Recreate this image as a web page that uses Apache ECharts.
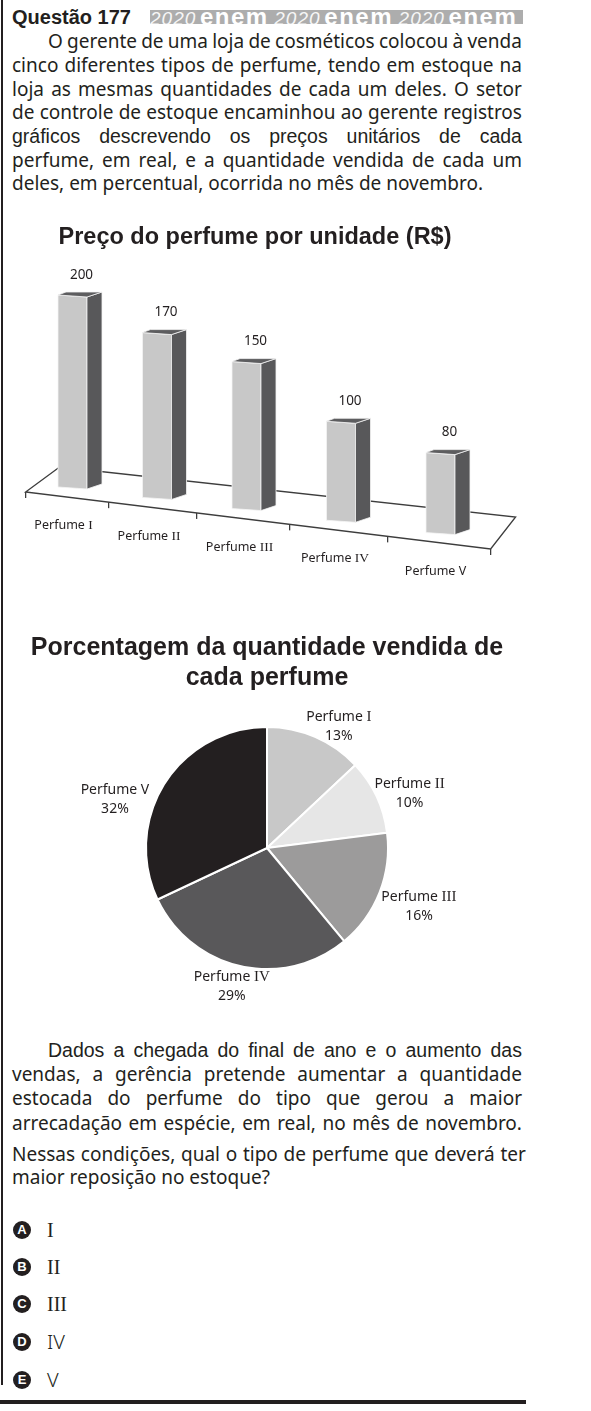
<!DOCTYPE html>
<html>
<head>
<meta charset="utf-8">
<script src="https://cdn.jsdelivr.net/npm/echarts@6/dist/echarts.min.js"></script>
<style>
html,body{margin:0;padding:0;background:#fff;}
body{width:591px;height:1411px;position:relative;overflow:hidden;color:#231f20;font-family:"Noto Sans",sans-serif;}
.abs{position:absolute;}
.vline{left:1px;top:0;width:2px;height:1385px;background:#231f20;}
.hline{left:0;top:1400px;width:526px;height:4px;background:#231f20;}
.q{left:12px;top:6.5px;font:bold 20px/20px "Liberation Sans",sans-serif;white-space:nowrap;}
.banner{left:150px;top:10px;width:373px;height:14px;background:#adadad;overflow:hidden;white-space:nowrap;font:bold 24px/14px "Liberation Sans",sans-serif;color:#fff;}
.banner span{display:inline-block;line-height:14px;vertical-align:baseline;}
.banner .y{font:italic 400 19px/14px "Liberation Sans",sans-serif;width:50px;letter-spacing:1px;color:#f6f6f6;}
.banner .e{font:bold 24px/14px "Liberation Sans",sans-serif;width:74.3px;letter-spacing:1.5px;}
.para{left:12px;width:510px;font-size:19px;}
.para > div{white-space:nowrap;}
.j{display:flex;justify-content:space-between;}
.ind{padding-left:36px;}
.ar{font-family:"Liberation Sans",sans-serif;font-size:19.5px;}
.opt{left:13px;width:200px;height:20px;}
.opt .c{position:absolute;left:0;top:1px;width:18px;height:18px;border-radius:50%;background:#231f20;color:#fff;font:bold 13px/18px "Liberation Sans",sans-serif;text-align:center;}
.opt .t{position:absolute;left:34px;top:0;line-height:20px;font-size:20px;white-space:nowrap;}
.opt .t.s{font-family:"Liberation Serif",serif;}
.opt .t.n{font-family:"Noto Sans",sans-serif;font-weight:300;}
#bar{left:0;top:215px;width:591px;height:390px;}
#pie{left:0;top:625px;width:534px;height:395px;}
</style>
</head>
<body>
<div class="abs vline"></div>
<div class="abs hline"></div>
<div class="abs q">Questão 177</div>
<div class="abs banner"><span class="y">2020</span><span class="e">enem</span><span class="y">2020</span><span class="e">enem</span><span class="y">2020</span><span class="e">enem</span></div>

<div class="abs para" style="top:30.2px;line-height:23.7px;">
  <div class="j ind">O gerente de uma loja de cosméticos colocou à venda</div>
  <div class="j">cinco diferentes tipos de perfume, tendo em estoque na</div>
  <div class="j">loja as mesmas quantidades de cada um deles. O setor</div>
  <div class="j">de controle de estoque encaminhou ao gerente registros</div>
  <div class="j ar">gráficos descrevendo os preços unitários de cada</div>
  <div class="j">perfume, em real, e a quantidade vendida de cada um</div>
  <div>deles, em percentual, ocorrida no mês de novembro.</div>
</div>

<div id="bar" class="abs"></div>
<div id="pie" class="abs"></div>

<div class="abs para" style="top:1037.7px;line-height:24.3px;">
  <div class="j ind ar">Dados a chegada do final de ano e o aumento das</div>
  <div class="j">vendas, a gerência pretende aumentar a quantidade</div>
  <div class="j">estocada do perfume do tipo que gerou a maior</div>
  <div class="j">arrecadação em espécie, em real, no mês de novembro.</div>
</div>
<div class="abs para" style="top:1142.7px;line-height:23px;width:514px;">
  <div class="j">Nessas condições, qual o tipo de perfume que deverá ter</div>
  <div>maior reposição no estoque?</div>
</div>

<div class="abs opt" style="top:1220px;"><div class="c">A</div><div class="t s">I</div></div>
<div class="abs opt" style="top:1257px;"><div class="c">B</div><div class="t s">II</div></div>
<div class="abs opt" style="top:1294px;"><div class="c">C</div><div class="t s">III</div></div>
<div class="abs opt" style="top:1332px;"><div class="c">D</div><div class="t n">IV</div></div>
<div class="abs opt" style="top:1370px;"><div class="c">E</div><div class="t n">V</div></div>

<script>
// ---- data ----
const categories = ['Perfume I', 'Perfume II', 'Perfume III', 'Perfume IV', 'Perfume V'];
const unitPrice = [200, 170, 150, 100, 80];
const soldShare = [13, 10, 16, 29, 32];
const sliceColors = ['#c8c8c8', '#e6e6e6', '#9c9b9b', '#59585a', '#231f20'];

// ---- justify helper for text lines ----
document.querySelectorAll('.j').forEach(el => {
  const words = el.textContent.trim().split(/\s+/);
  el.textContent = '';
  words.forEach(w => { const s = document.createElement('span'); s.textContent = w; el.appendChild(s); });
});

const INK = '#231f20';
function richName(name) {
  const m = name.match(/^(\S+) (\S+)$/);
  const num = m[2];
  return '{n|' + m[1] + ' }' + (num === 'V' ? '{n|' + num + '}' : '{r|' + num + '}');
}

// ---- pseudo-3D bar chart ----
const BEND = 2.5, SLOPE = 0.1226, FRONT_GAP = 10, TICK = 6;
const BACK_L = [34, -25], BACK_R = [25, -32];
const FACE = { front: '#c8c8c8', side: '#58585a', top: '#5d5d5f', edge: '#f4f4f4', floor: '#3d3d3d' };

function warpX(api, u) {
  const o = api.coord([0, 0]);
  const band = api.size([1, 0])[0];
  return o[0] + u * band + BEND * u * (u - 1);
}
function frontPoint(api, u) {
  const o = api.coord([0, 0]);
  const X = warpX(api, u);
  return [X, o[1] + (X - o[0]) * SLOPE + FRONT_GAP];
}

function renderFloor(params, api) {
  const n = categories.length;
  const fl = frontPoint(api, -0.5), fr = frontPoint(api, n - 0.5);
  const bl = [fl[0] + BACK_L[0], fl[1] + BACK_L[1]];
  const br = [fr[0] + BACK_R[0], fr[1] + BACK_R[1]];
  const children = [{
    type: 'polygon', shape: { points: [bl, fl, fr, br] },
    style: { fill: 'none', stroke: FACE.floor, lineWidth: 1.3 }
  }];
  for (let k = 0; k <= n; k++) {
    const p = frontPoint(api, k - 0.5);
    children.push({ type: 'line', shape: { x1: p[0], y1: p[1], x2: p[0], y2: p[1] + TICK },
      style: { stroke: FACE.floor, lineWidth: 1.3 } });
  }
  return { type: 'group', children };
}

function renderBar(params, api) {
  const i = api.value(0), v = api.value(1);
  const pb = api.coord([i, 0]), pt = api.coord([i, v]);
  const o = api.coord([0, 0]);
  const band = api.size([1, 0])[0];
  const u = (pb[0] - o[0]) / band;
  const X = warpX(api, u);
  const yb = pb[1] + (X - o[0]) * SLOPE;
  const h = (pb[1] - pt[1]) * (0.96 + 0.01 * u);
  const yt = yb - h;
  const cx = X + 6 - u;
  const hw = 14.5, dx = 15, dy = -5, sk = 2;
  const L = cx - hw, R = cx + hw;
  const edge = { stroke: FACE.edge, lineWidth: 0.8 };
  return {
    type: 'group',
    children: [
      { type: 'polygon', shape: { points: [[L, yt], [R, yt + sk], [R, yb + sk], [L, yb]] },
        style: Object.assign({ fill: FACE.front }, edge) },
      { type: 'polygon', shape: { points: [[R, yt + sk], [R + dx, yt + sk + dy], [R + dx, yb + sk + dy], [R, yb + sk]] },
        style: Object.assign({ fill: FACE.side }, edge) },
      { type: 'polygon', shape: { points: [[L, yt], [L + 8, yt - 3], [R + dx, yt + sk + dy], [R, yt + sk]] },
        style: Object.assign({ fill: FACE.top }, edge) },
      { type: 'text', style: { text: String(v), x: cx + 9, y: yt - 20, align: 'center', verticalAlign: 'middle',
        fontFamily: 'Noto Sans', fontSize: 13.5, fill: INK } },
      { type: 'text', style: { text: richName(categories[i]), x: X - 3, y: yb + 38.5, align: 'center', verticalAlign: 'middle',
        rich: { n: { fontFamily: 'Noto Sans', fontSize: 12.5, fill: INK }, r: { fontFamily: 'Liberation Serif', fontSize: 13.5, fill: INK } } } }
    ]
  };
}

const bar = echarts.init(document.getElementById('bar'));
bar.setOption({
  animation: false,
  title: {
    text: 'Preço do perfume por unidade (R$)', left: 255, top: 10, padding: 0, textAlign: 'center',
    textStyle: { fontFamily: 'Liberation Sans', fontWeight: 'bold', fontSize: 23.5, lineHeight: 26, color: INK }
  },
  grid: { left: 23.75, width: 427.5, top: 72, height: 200 },
  xAxis: { type: 'category', data: categories, show: false },
  yAxis: { type: 'value', min: 0, max: 200, show: false },
  series: [
    { type: 'custom', z: 1, silent: true, data: [[0, 0]], renderItem: renderFloor },
    { type: 'custom', z: 2, data: unitPrice.map((v, i) => [i, v]), renderItem: renderBar }
  ]
});

// ---- pie chart ----
const PIE_C = [267, 223], PIE_R = 121, LABEL_GAP = 7;
const LABEL_NUDGE = [[8, 11], [-5, 7], [-2, 5], [1, -3], [-15, 29]];
const totalShare = soldShare.reduce((a, b) => a + b, 0);

const pie = echarts.init(document.getElementById('pie'));
pie.setOption({
  animation: false,
  title: {
    text: 'Porcentagem da quantidade vendida de\ncada perfume', left: 'center', top: 8, padding: 0,
    textStyle: { fontFamily: 'Liberation Sans', fontWeight: 'bold', fontSize: 25, lineHeight: 30, color: INK }
  },
  series: [{
    type: 'pie', center: PIE_C, radius: PIE_R, startAngle: 90, clockwise: true, avoidLabelOverlap: false,
    data: categories.map((n, i) => ({ name: n, value: soldShare[i], itemStyle: { color: sliceColors[i] } })),
    itemStyle: { borderColor: '#ffffff', borderWidth: 2 },
    label: {
      show: true, position: 'outside',
      formatter: p => richName(p.name) + '\n{n|' + p.value + '%}',
      rich: {
        n: { fontFamily: 'Noto Sans', fontSize: 14, lineHeight: 19, color: INK },
        r: { fontFamily: 'Liberation Serif', fontSize: 15, lineHeight: 19, color: INK }
      }
    },
    labelLine: { show: false },
    labelLayout: function (params) {
      const idx = params.dataIndex;
      let before = 0;
      for (let k = 0; k < idx; k++) before += soldShare[k];
      const mid = (before + soldShare[idx] / 2) / totalShare * Math.PI * 2;
      const sx = Math.sin(mid), sy = -Math.cos(mid);
      const w = params.labelRect.width, h = params.labelRect.height;
      const R = PIE_R + LABEL_GAP;
      const nd = LABEL_NUDGE[idx];
      return {
        x: PIE_C[0] + R * sx + sx * w / 2 + nd[0],
        y: PIE_C[1] + R * sy + sy * h / 2 + nd[1],
        align: 'center', verticalAlign: 'middle'
      };
    }
  }]
});
</script>
</body>
</html>
